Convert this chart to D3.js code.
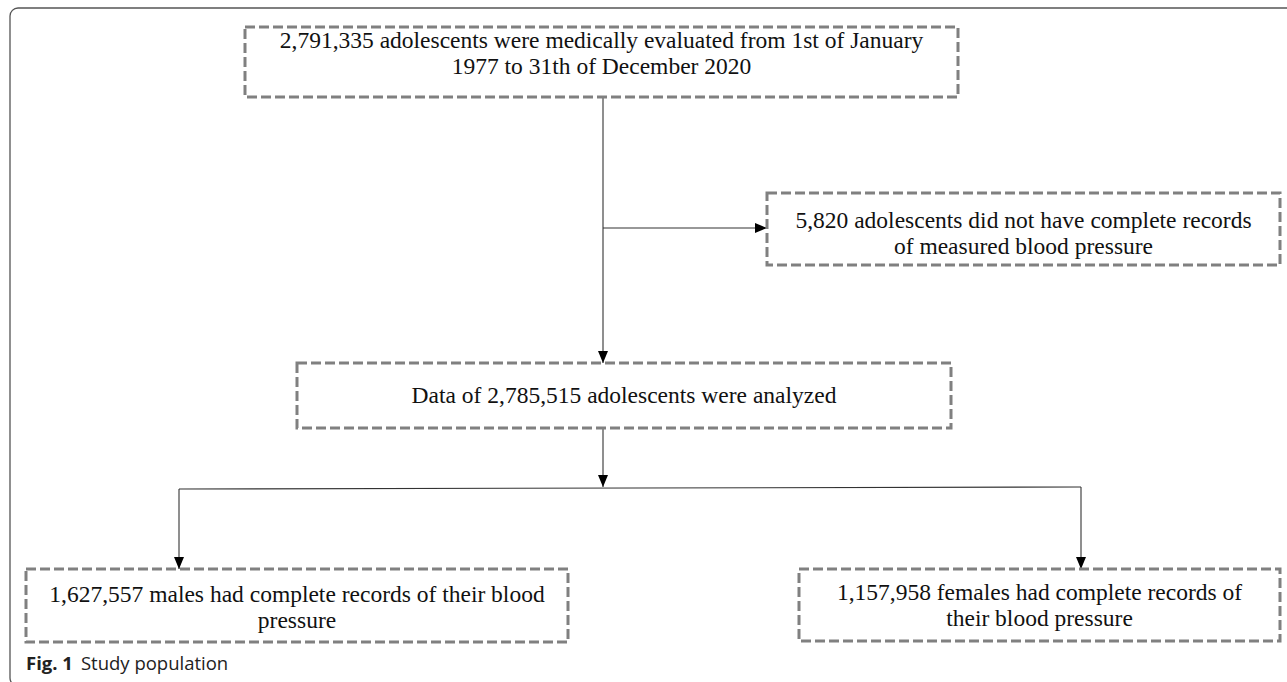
<!DOCTYPE html>
<html>
<head>
<meta charset="utf-8">
<script src="https://cdn.jsdelivr.net/npm/d3@7"></script>
<style>
  html, body { margin: 0; padding: 0; background: #fff; }
</style>
</head>
<body>
<svg id="canvas" width="1287" height="682"></svg>
<script>
(function () {
    // flow counts, one per box
    var boxIds = ["screened", "excluded", "analyzed", "males", "females"];
    var counts = [2791335, 5820, 2785515, 1627557, 1157958];
    // text lines of each box, {n} is replaced by the formatted count
    var boxLines = [
        ["{n} adolescents were medically evaluated from 1st of January", "1977 to 31th of December 2020"],
        ["{n} adolescents did not have complete records", "of measured blood pressure"],
        ["Data of {n} adolescents were analyzed"],
        ["{n} males had complete records of their blood", "pressure"],
        ["{n} females had complete records of", "their blood pressure"]
    ];
    var captionLabel = "Fig. 1";
    var captionText = "Study population";

    var fmt = d3.format(",");

    // box geometry: [x0, y0, x1, y1, first baseline below top]
    var layout = {
        screened: [245, 27, 958, 97, 21],
        excluded: [767, 193, 1280, 265, 35],
        analyzed: [297, 363, 951, 428, 40],
        males:    [26, 569, 568, 642, 33],
        females:  [799, 569, 1280, 641, 31]
    };
    // connector columns / rows
    var trunkX = 603, branchY = 228, splitY = 489, leftX = 179, rightX = 1081;

    var svg = d3.select("#canvas");

    svg.append("defs").append("marker")
        .attr("id", "arrow")
        .attr("viewBox", "0 -5 12 10")
        .attr("refX", 12)
        .attr("refY", 0)
        .attr("markerUnits", "userSpaceOnUse")
        .attr("markerWidth", 12)
        .attr("markerHeight", 10)
        .attr("orient", "auto")
        .append("path")
        .attr("d", "M0,-5L12,0L0,5Z")
        .attr("fill", "#000");

    //outer frame
    svg.append("rect")
        .attr("x", 10).attr("y", 8)
        .attr("width", 1300).attr("height", 678)
        .attr("rx", 8)
        .attr("fill", "none")
        .attr("stroke", "#555")
        .attr("stroke-width", 1.3);

    var boxes = boxIds.map(function (id, i) {
        var b = layout[id];
        return {
            id: id,
            x0: b[0], y0: b[1], x1: b[2], y1: b[3], base: b[4],
            lines: boxLines[i].map(function (s) { return s.replace("{n}", fmt(counts[i])); })
        };
    });
    var byId = {};
    boxes.forEach(function (b) { byId[b.id] = b; });

    // connectors
    var links = [
        { pts: [[trunkX, byId.screened.y1], [trunkX, byId.analyzed.y0]], arrow: true },
        { pts: [[trunkX, branchY], [byId.excluded.x0, branchY]], arrow: true },
        { pts: [[trunkX, byId.analyzed.y1], [trunkX, splitY - 2]], arrow: true },
        { pts: [[leftX, splitY], [rightX, splitY - 2]], arrow: false },
        { pts: [[leftX, splitY], [leftX, byId.males.y0]], arrow: true },
        { pts: [[rightX, splitY - 2], [rightX, byId.females.y0]], arrow: true }
    ];
    var line = d3.line();
    svg.append("g")
        .selectAll("path")
        .data(links)
        .join("path")
        .attr("d", function (d) { return line(d.pts); })
        .attr("fill", "none")
        .attr("stroke", "#333")
        .attr("stroke-width", 1.1)
        .attr("marker-end", function (d) { return d.arrow ? "url(#arrow)" : null; });

    var g = svg.append("g")
        .selectAll("g")
        .data(boxes)
        .join("g");

    g.append("rect")
        .attr("x", function (d) { return d.x0; })
        .attr("y", function (d) { return d.y0; })
        .attr("width", function (d) { return d.x1 - d.x0; })
        .attr("height", function (d) { return d.y1 - d.y0; })
        .attr("fill", "none")
        .attr("stroke", "#808080")
        .attr("stroke-width", 3)
        .attr("stroke-dasharray", "10,4");

    var lineH = 26;
    g.append("text")
        .attr("text-anchor", "middle")
        .attr("font-family", "'Liberation Serif', 'Times New Roman', serif")
        .attr("font-size", 23.5)
        .attr("fill", "#111")
        .each(function (d) {
            var cx = (d.x0 + d.x1) / 2;
            d3.select(this).selectAll("tspan")
                .data(d.lines)
                .join("tspan")
                .attr("x", cx)
                .attr("y", function (s, k) { return d.y0 + d.base + k * lineH; })
                .text(function (s) { return s; });
        });

    var cap = svg.append("text")
        .attr("x", 26)
        .attr("y", 670)
        .attr("font-family", "'Open Sans', 'Noto Sans', sans-serif")
        .attr("font-size", 18.5)
        .attr("fill", "#222");
    cap.append("tspan").attr("font-weight", "bold").text(captionLabel);
    cap.append("tspan").attr("dx", 8).text(captionText);
})();
</script>
</body>
</html>
